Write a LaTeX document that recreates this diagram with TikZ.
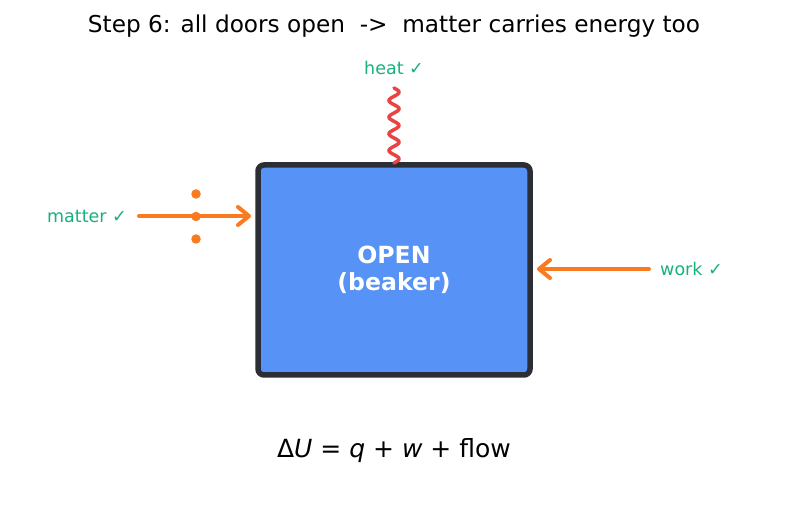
\documentclass[tikz,border=0pt]{standalone}
\usepackage{fontspec}
\setmainfont{DejaVu Sans}
\usetikzlibrary{arrows.meta}
\definecolor{boxfill}{HTML}{5792F6}
\definecolor{boxline}{HTML}{2B2E35}
\definecolor{okgreen}{HTML}{19B07E}
\definecolor{flowor}{HTML}{F97A1F}
\definecolor{heatred}{HTML}{E84444}
\tikzset{
  lbl/.style={text=okgreen, font=\fontsize{17.5}{21}\selectfont, inner sep=0pt},
  flowarrow/.style={draw=flowor, line width=4pt, line cap=round, line join=round,
    -{Straight Barb[length=11pt, width=18pt, line width=4pt, round]}},
  dotm/.style={circle, fill=flowor, minimum size=9.5pt, inner sep=0pt},
}
\begin{document}
\begin{tikzpicture}[x=1pt, y=-1pt]
\useasboundingbox (0,0) rectangle (787,510);
\node (title) at (394,26) {\fontsize{23.2}{28}\selectfont Step 6: all doors open\ \ ->\ \ matter carries energy too};
\node (box) [draw=boxline, line width=5.5pt, fill=boxfill, rounded corners=6pt,
  minimum width=272pt, minimum height=210pt, outer sep=0pt] at (394,270) {};
\node (boxtxt) [text=white, font=\fontsize{23.6}{27}\selectfont\bfseries, align=center] at (394,270) {OPEN\\(beaker)};
% heat
\draw[heatred, line width=3.5pt, line cap=round, smooth] plot[domain=0:75, samples=120] ({394+5*sin(\x/75*4.5*360)}, {88+\x});
\node (heat) [lbl] at (394,68) {heat ✓};
% matter
\coordinate (ms) at (139,216);
\coordinate (me) at (251,216);
\draw[flowarrow] (ms) -- (me);
\node (d1) [dotm] at (196,194) {};
\node (d2) [dotm] at (196,216.5) {};
\node (d3) [dotm] at (196,239) {};
\node (matter) [lbl, anchor=east] at (127,216) {matter ✓};
% work
\coordinate (ws) at (649,269);
\coordinate (we) at (537,269);
\draw[flowarrow] (ws) -- (we);
\node (work) [lbl, anchor=west] at (660,269) {work ✓};
% equation
\node (eq) at (394,451) {\fontsize{25}{30}\selectfont Δ\textit{U} = \textit{q} + \textit{w} + flow};
\end{tikzpicture}
\end{document}
